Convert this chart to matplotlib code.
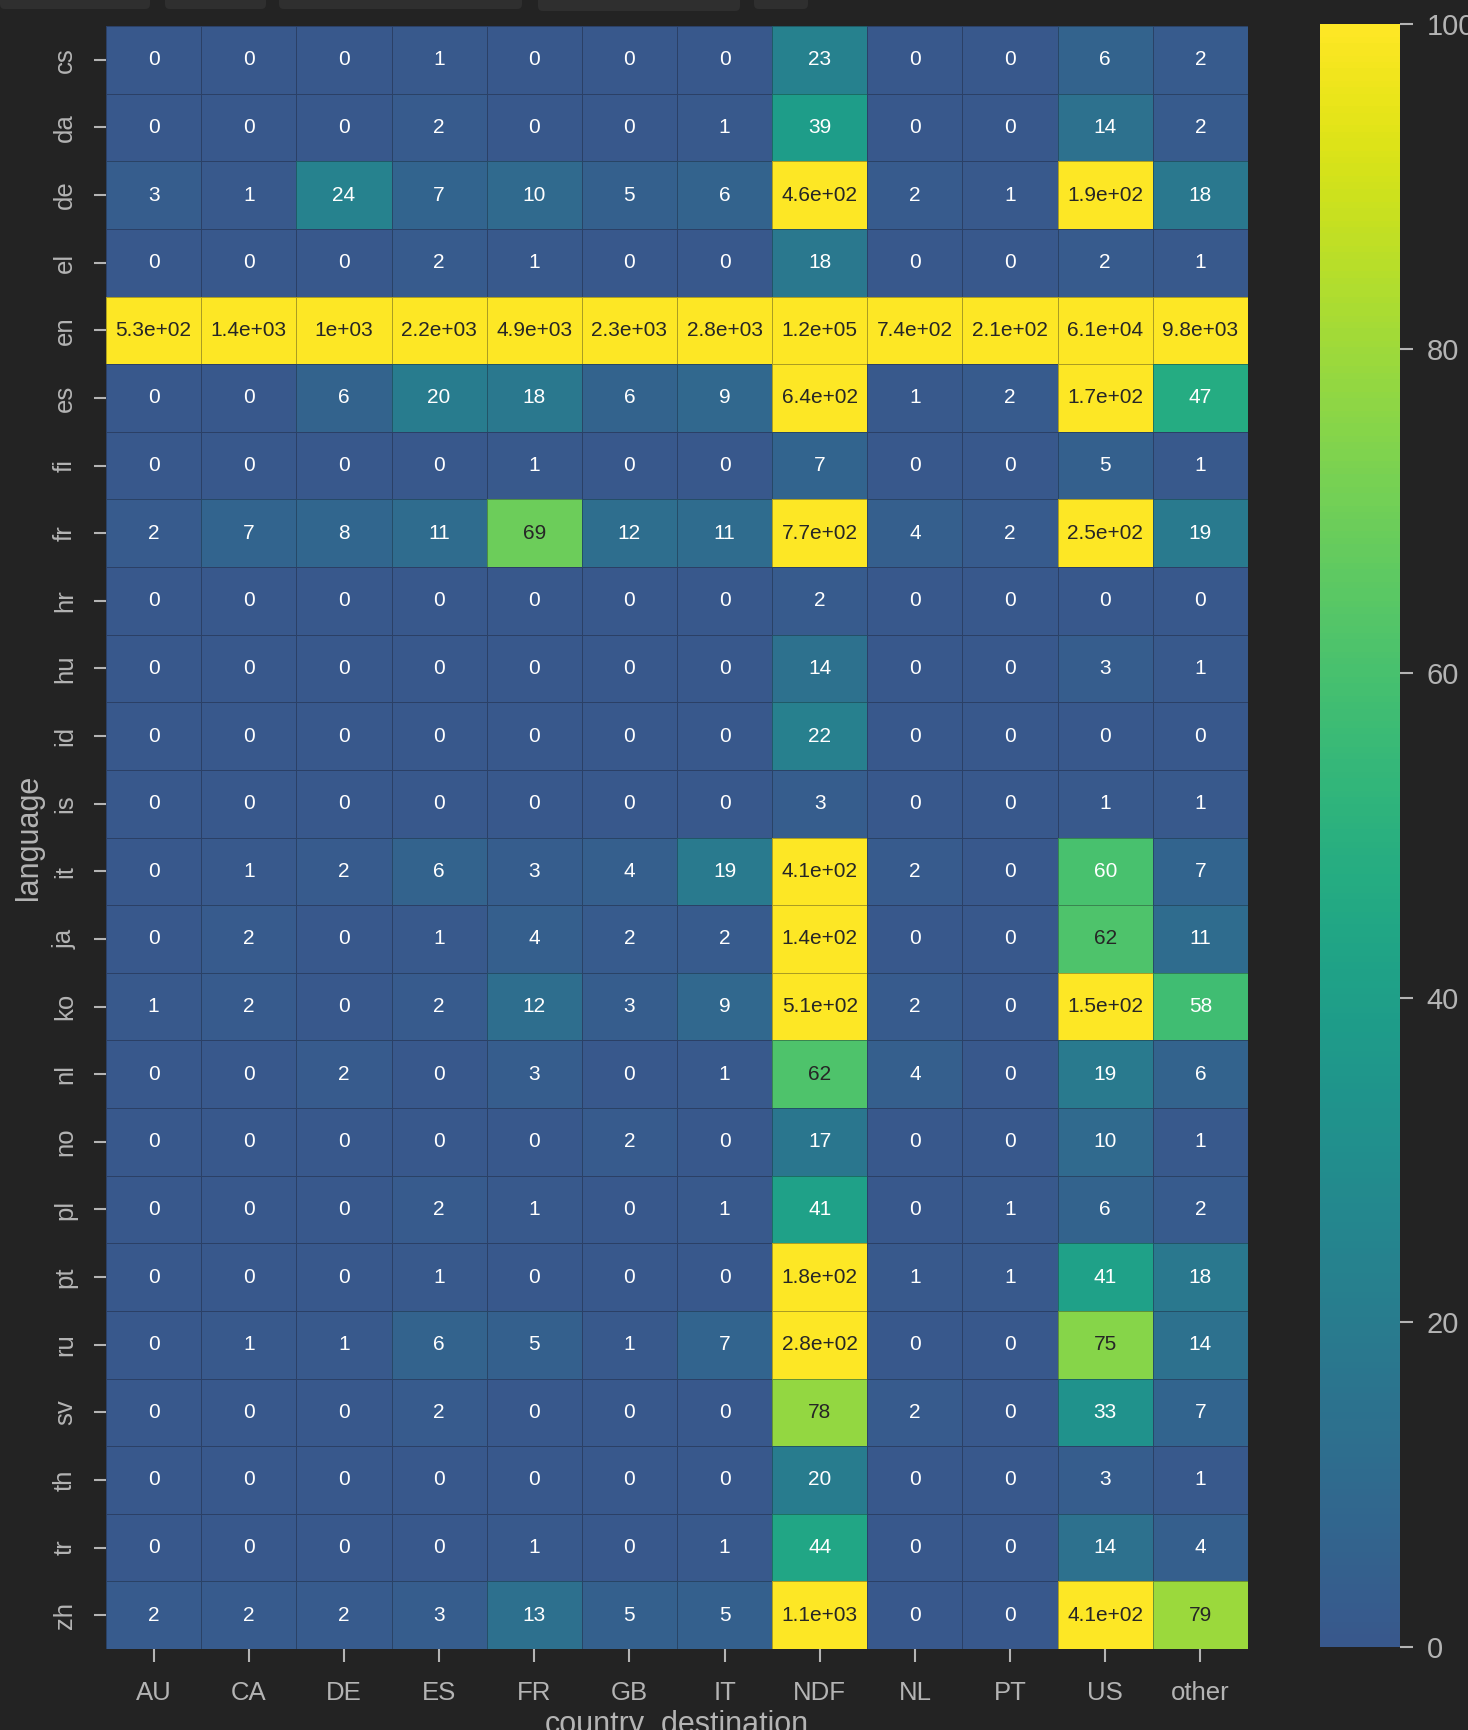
import numpy as np
import pandas as pd
import matplotlib
matplotlib.use("Agg")
import matplotlib.pyplot as plt
from matplotlib.colors import ListedColormap
from matplotlib.patches import FancyBboxPatch
import seaborn as sns

languages = ["cs", "da", "de", "el", "en", "es", "fi", "fr", "hr", "hu", "id", "is",
             "it", "ja", "ko", "nl", "no", "pl", "pt", "ru", "sv", "th", "tr", "zh"]
countries = ["AU", "CA", "DE", "ES", "FR", "GB", "IT", "NDF", "NL", "PT", "US", "other"]

counts = [
    [0, 0, 0, 1, 0, 0, 0, 23, 0, 0, 6, 2],
    [0, 0, 0, 2, 0, 0, 1, 39, 0, 0, 14, 2],
    [3, 1, 24, 7, 10, 5, 6, 460, 2, 1, 190, 18],
    [0, 0, 0, 2, 1, 0, 0, 18, 0, 0, 2, 1],
    [530, 1400, 1000, 2200, 4900, 2300, 2800, 120000, 740, 210, 61000, 9800],
    [0, 0, 6, 20, 18, 6, 9, 640, 1, 2, 170, 47],
    [0, 0, 0, 0, 1, 0, 0, 7, 0, 0, 5, 1],
    [2, 7, 8, 11, 69, 12, 11, 770, 4, 2, 250, 19],
    [0, 0, 0, 0, 0, 0, 0, 2, 0, 0, 0, 0],
    [0, 0, 0, 0, 0, 0, 0, 14, 0, 0, 3, 1],
    [0, 0, 0, 0, 0, 0, 0, 22, 0, 0, 0, 0],
    [0, 0, 0, 0, 0, 0, 0, 3, 0, 0, 1, 1],
    [0, 1, 2, 6, 3, 4, 19, 410, 2, 0, 60, 7],
    [0, 2, 0, 1, 4, 2, 2, 140, 0, 0, 62, 11],
    [1, 2, 0, 2, 12, 3, 9, 510, 2, 0, 150, 58],
    [0, 0, 2, 0, 3, 0, 1, 62, 4, 0, 19, 6],
    [0, 0, 0, 0, 0, 2, 0, 17, 0, 0, 10, 1],
    [0, 0, 0, 2, 1, 0, 1, 41, 0, 1, 6, 2],
    [0, 0, 0, 1, 0, 0, 0, 180, 1, 1, 41, 18],
    [0, 1, 1, 6, 5, 1, 7, 280, 0, 0, 75, 14],
    [0, 0, 0, 2, 0, 0, 0, 78, 2, 0, 33, 7],
    [0, 0, 0, 0, 0, 0, 0, 20, 0, 0, 3, 1],
    [0, 0, 0, 0, 1, 0, 1, 44, 0, 0, 14, 4],
    [2, 2, 2, 3, 13, 5, 5, 1100, 0, 0, 410, 79],
]

bg = "#232323"
fg = "#b4b4b4"

plt.rcParams["font.family"] = ["Liberation Sans", "DejaVu Sans"]

df = pd.DataFrame(counts, index=languages, columns=countries)
df.index.name = "language"
df.columns.name = "country_destination"

# viridis without its purple end
cmap = ListedColormap(plt.cm.viridis(np.linspace(0.27, 1.0, 256)))

fig = plt.figure(figsize=(14.68, 17.30), dpi=100, facecolor=bg)
W, H = 1468, 1730
ax = fig.add_axes([106 / W, 1 - 1649 / H, 1142 / W, 1623 / H])
cax = fig.add_axes([1320 / W, 1 - 1647 / H, 80 / W, 1623 / H])
ax.set_facecolor(bg)

sns.heatmap(df, ax=ax, cbar_ax=cax, cmap=cmap, vmin=0, vmax=100,
            annot=True, annot_kws={"fontsize": 15},
            linewidths=0.6, linecolor=(0.08, 0.08, 0.12, 0.35))

ax.tick_params(axis="both", colors=fg, labelcolor=fg, length=9, width=1.5,
               labelsize=18.5)
ax.tick_params(axis="x", pad=14)
ax.tick_params(axis="y", pad=12)
plt.setp(ax.get_yticklabels(), rotation=90, va="center")
plt.setp(ax.get_xticklabels(), rotation=0)
ax.set_xlabel("country_destination", color=fg, fontsize=22, labelpad=4)
ax.set_ylabel("language", color=fg, fontsize=22, labelpad=6)

cax.tick_params(colors=fg, labelcolor=fg, length=9, width=1.5, labelsize=21, pad=10)
cax.set_yticks([0, 20, 40, 60, 80, 100])
for s in cax.spines.values():
    s.set_visible(False)

# notebook tab strip at the top
for x0, x1, h in [(0, 150, 9), (165, 266, 9), (279, 522, 9), (538, 740, 11), (754, 808, 9)]:
    fig.patches.append(FancyBboxPatch((x0 / W, 1 - h / H), (x1 - x0) / W, (h + 10) / H,
                                      boxstyle="round,pad=0,rounding_size=0.003",
                                      transform=fig.transFigure, facecolor="#2f2f2f",
                                      edgecolor="none"))

fig.savefig("out.png", dpi=100, facecolor=bg)
